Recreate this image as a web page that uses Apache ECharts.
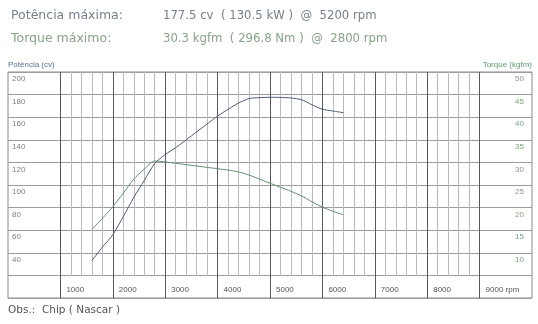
<!DOCTYPE html>
<html>
<head>
<meta charset="utf-8">
<script src="https://cdn.jsdelivr.net/npm/echarts@6/dist/echarts.min.js"></script>
<style>
  html, body { margin: 0; padding: 0; background: #ffffff; }
  #chart { width: 538px; height: 324px; }
</style>
</head>
<body>
<div id="chart"></div>
<script>
// Engine speed (rpm) at which power and torque were sampled
const rpm = [1600, 1800, 2000, 2200, 2400, 2600, 2800, 3000, 3200, 3400, 3600, 3800, 4000,
             4200, 4400, 4600, 4800, 5000, 5200, 5400, 5600, 5800, 6000, 6200, 6400];
// Power (cv)
const power = [33, 45, 56, 72, 89, 104, 119, 127, 133, 140, 147, 154, 161,
               167, 172.5, 176.5, 177.3, 177.6, 177.5, 177, 175.5, 171, 167, 165.5, 164];
// Torque (kgfm)
const torque = [15.2, 17.6, 20.2, 23.2, 26.3, 28.5, 30.3, 30.1, 29.8, 29.5, 29.2, 28.9, 28.6,
                28.3, 27.9, 27.2, 26.3, 25.4, 24.5, 23.6, 22.6, 21.3, 20.1, 19.2, 18.4];

// Tick labels
const rpmTicks = [1000, 2000, 3000, 4000, 5000, 6000, 7000, 8000, 9000];
const rpmTickLabels = ['1000', '2000', '3000', '4000', '5000', '6000', '7000', '8000', '9000 rpm'];
const powerTicks = [40, 60, 80, 100, 120, 140, 160, 180, 200];
const torqueTicks = [10, 15, 20, 25, 30, 35, 40, 45, 50];

// Header texts
const headerPower = ['Potência máxima:', '177.5 cv  ( 130.5 kW )  @  5200 rpm'];
const headerTorque = ['Torque máximo:', '30.3 kgfm  ( 296.8 Nm )  @  2800 rpm'];
const note = 'Obs.:  Chip ( Nascar )';

const C_POWER = '#4f5b78';
const C_TORQUE = '#5f9070';
const C_GRID = '#9c9c9c';
const C_MINOR = '#bababa';
const C_MAJOR = '#5a5a5a';

// Minor vertical rules every 200 rpm between 1000 and 9000 (majors drawn by the other axis)
const minorColors = [];
for (let v = 0; v <= 10000; v += 200) {
  minorColors.push(v > 1000 && v < 9000 && v % 1000 !== 0 ? C_MINOR : 'rgba(0,0,0,0)');
}
const majorColors = [];
for (let v = 0; v <= 10000; v += 1000) {
  majorColors.push(v >= 1000 && v <= 9000 ? C_MAJOR : 'rgba(0,0,0,0)');
}

const chart = echarts.init(document.getElementById('chart'), null, { renderer: 'canvas' });

const labelFont = { fontFamily: 'DejaVu Sans', fontSize: 12.5, fontWeight: 'normal' };
const valueFont = { fontFamily: 'DejaVu Sans', fontSize: 11.7, fontWeight: 'normal' };

chart.setOption({
  animation: false,
  backgroundColor: '#ffffff',
  title: [
    { text: headerPower[0], left: 11, top: 9, padding: 0, textStyle: Object.assign({ color: '#76818d' }, labelFont) },
    { text: headerPower[1], left: 163, top: 10, padding: 0, textStyle: Object.assign({ color: '#76818d' }, valueFont) },
    { text: headerTorque[0], left: 11, top: 32, padding: 0, textStyle: Object.assign({ color: '#86a486' }, labelFont) },
    { text: headerTorque[1], left: 163, top: 33, padding: 0, textStyle: Object.assign({ color: '#86a486' }, valueFont) },
    { text: note, left: 8, top: 305, padding: 0, textStyle: { color: '#555555', fontFamily: 'DejaVu Sans', fontSize: 10.5, fontWeight: 'normal' } }
  ],
  grid: [
    { left: 8, top: 72, width: 524, height: 226, show: true, borderColor: '#8a8a8a', borderWidth: 1, backgroundColor: 'rgba(0,0,0,0)' },
    { left: 8, top: 72, width: 524, height: 204, show: false }
  ],
  xAxis: [
    {
      type: 'value', gridIndex: 0, min: 0, max: 10000, interval: 1000,
      axisLine: { show: false }, axisTick: { show: false },
      splitLine: { show: true, lineStyle: { color: majorColors, width: 1 } },
      axisLabel: {
        inside: true, margin: 4, align: 'left', padding: [0, 0, 0, 6],
        color: '#555555', fontFamily: 'Liberation Sans', fontSize: 8,
        formatter: v => { const i = rpmTicks.indexOf(v); return i >= 0 ? rpmTickLabels[i] : ''; }
      }
    },
    {
      type: 'value', gridIndex: 1, min: 0, max: 10000, interval: 200,
      axisLine: { show: false }, axisTick: { show: false }, axisLabel: { show: false },
      splitLine: { show: true, lineStyle: { color: minorColors, width: 1 } }
    }
  ],
  yAxis: [
    {
      type: 'value', gridIndex: 0, min: 0, max: 200, interval: 20, position: 'left',
      name: 'Potência (cv)', nameLocation: 'end', nameGap: 3,
      nameTextStyle: { align: 'left', verticalAlign: 'bottom', color: '#5c7390', fontFamily: 'Liberation Sans', fontSize: 8 },
      axisLine: { show: false }, axisTick: { show: false },
      splitLine: { show: true, lineStyle: { color: C_GRID, width: 1 } },
      axisLabel: {
        inside: true, margin: 4, verticalAlign: 'top', padding: [3, 0, 0, 0],
        color: '#808080', fontFamily: 'Liberation Sans', fontSize: 8,
        formatter: v => powerTicks.indexOf(v) >= 0 ? String(v) : ''
      }
    },
    {
      type: 'value', gridIndex: 0, min: 0, max: 50, interval: 5, position: 'right',
      name: 'Torque (kgfm)', nameLocation: 'end', nameGap: 3,
      nameTextStyle: { align: 'right', verticalAlign: 'bottom', color: '#5e9a6a', fontFamily: 'Liberation Sans', fontSize: 8 },
      axisLine: { show: false }, axisTick: { show: false }, splitLine: { show: false },
      axisLabel: {
        inside: true, margin: 8, verticalAlign: 'top', padding: [3, 0, 0, 0],
        color: '#7fa47f', fontFamily: 'Liberation Sans', fontSize: 8,
        formatter: v => torqueTicks.indexOf(v) >= 0 ? String(v) : ''
      }
    },
    {
      type: 'value', gridIndex: 1, min: 0, max: 180, show: false,
      splitLine: { show: false }
    }
  ],
  series: [
    {
      name: 'Potência', type: 'line', xAxisIndex: 0, yAxisIndex: 0,
      data: rpm.map((r, i) => [r, power[i]]),
      showSymbol: false, smooth: 0.25,
      lineStyle: { color: C_POWER, width: 1 }, z: 5
    },
    {
      name: 'Torque', type: 'line', xAxisIndex: 0, yAxisIndex: 1,
      data: rpm.map((r, i) => [r, torque[i]]),
      showSymbol: false, smooth: 0.25,
      lineStyle: { color: C_TORQUE, width: 1 }, z: 5
    }
  ]
});
</script>
</body>
</html>
